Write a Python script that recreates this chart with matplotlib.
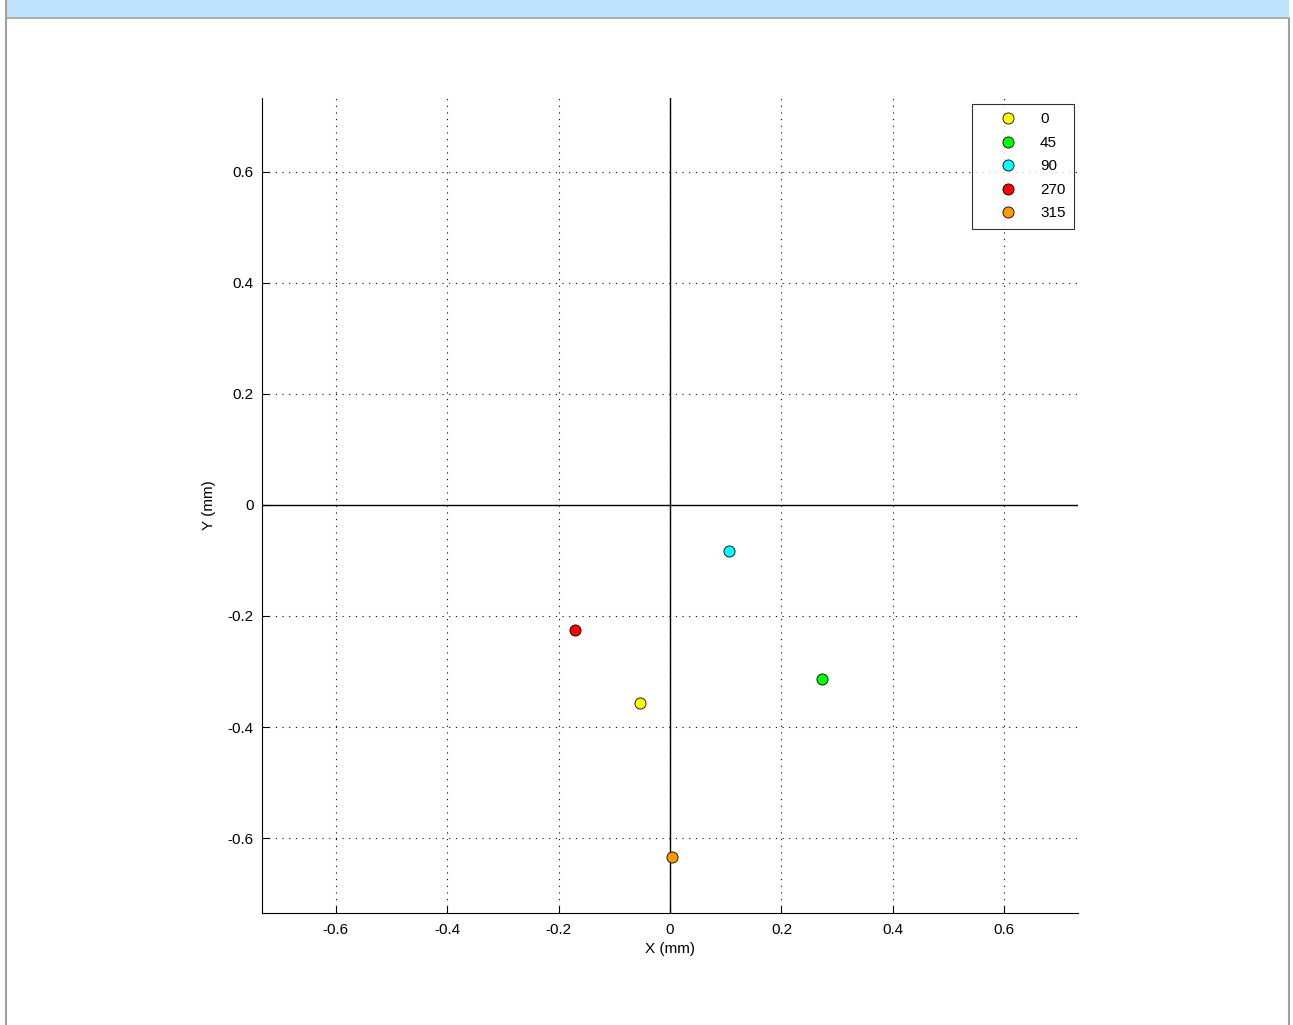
import matplotlib.pyplot as plt
from matplotlib.patches import Rectangle
from matplotlib.lines import Line2D

# angle labels and measured offsets (mm)
angles = ['0', '45', '90', '270', '315']
x_mm = [-0.054, 0.273, 0.106, -0.170, 0.004]
y_mm = [-0.357, -0.313, -0.083, -0.225, -0.634]
colors = ['#ffff00', '#00ff00', '#00ffff', '#ff0000', '#ff9900']

ticks = [-0.6, -0.4, -0.2, 0, 0.2, 0.4, 0.6]
tick_labels = ['-0.6', '-0.4', '-0.2', '0', '0.2', '0.4', '0.6']

plt.rcParams['font.family'] = ['Liberation Sans', 'DejaVu Sans']

W, H = 1293, 1025
fig = plt.figure(figsize=(W / 100, H / 100), dpi=100)

# window chrome: title strip and side borders
fig.patches.append(Rectangle((6 / W, 1 - 17 / H), 1283 / W, 17 / H,
                             transform=fig.transFigure, facecolor='#bfe3ff',
                             edgecolor='none', zorder=0))
fig.lines.append(Line2D([6 / W, 1289 / W], [1 - 18 / H, 1 - 18 / H],
                        transform=fig.transFigure, color='#a0a0a0', lw=1.2))
fig.lines.append(Line2D([5.5 / W, 5.5 / W], [0, 1], transform=fig.transFigure,
                        color='#a0a0a0', lw=1.5))
fig.lines.append(Line2D([1288.5 / W, 1288.5 / W], [0, 1 - 19 / H],
                        transform=fig.transFigure, color='#a0a0a0', lw=1.5))

ax = fig.add_axes([262 / W, 1 - 913 / H, 816 / W, 815 / H])

ax.axhline(0, color='black', lw=1, zorder=1)
ax.axvline(0, color='black', lw=1, zorder=1)

for a, x, y, c in zip(angles, x_mm, y_mm, colors):
    ax.plot(x, y, 'o', color=c, mec='black', mew=0.6, ms=8, label=a, zorder=3)

ax.set_xlim(-0.732, 0.732)
ax.set_ylim(-0.735, 0.733)
ax.set_xticks(ticks)
ax.set_xticklabels(tick_labels)
ax.set_yticks(ticks)
ax.set_yticklabels(tick_labels)
ax.grid(True, color='black', linestyle=(0, (1, 5)), lw=0.8)
ax.tick_params(direction='in', length=5, labelsize=11, width=0.8)
ax.tick_params(axis='x', pad=7)
ax.tick_params(axis='y', pad=6)
ax.spines['top'].set_visible(False)
ax.spines['right'].set_visible(False)
ax.set_xlabel('X (mm)', fontsize=11, labelpad=4)
ax.set_ylabel('Y (mm)', fontsize=11, labelpad=8)

leg = ax.legend(loc='upper right', bbox_to_anchor=(0.995, 0.9926),
                borderaxespad=0, fontsize=11,
                frameon=True, fancybox=False, edgecolor='black',
                handletextpad=0.28, labelspacing=0.62, borderpad=0.55,
                handlelength=3.65)
leg.get_frame().set_linewidth(0.8)

fig.savefig('out.png', dpi=100)
